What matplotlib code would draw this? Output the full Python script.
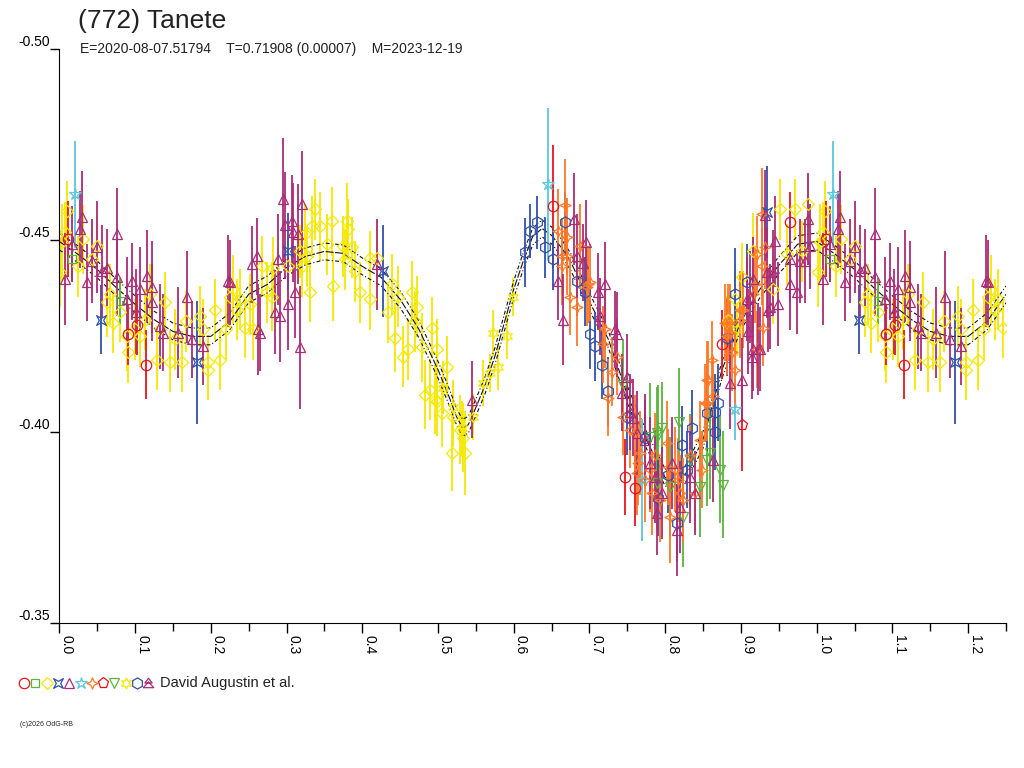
import numpy as np
import matplotlib
matplotlib.use('Agg')
import matplotlib.pyplot as plt
from matplotlib.path import Path
from matplotlib.lines import Line2D
from matplotlib.ticker import FormatStrFormatter, MultipleLocator

plt.rcParams['font.family'] = ['Liberation Sans', 'DejaVu Sans']
plt.rcParams['axes.unicode_minus'] = False

title = '(772) Tanete'
subtitle = 'E=2020-08-07.51794    T=0.71908 (0.00007)    M=2023-12-19'
observer = 'David Augustin et al.'
credit = '(c)2026 OdG-RB'

# fitted light curve (phase, mag) and its uncertainty band
model_phase = [0.000, 0.025, 0.050, 0.075, 0.100, 0.125, 0.150, 0.175, 0.200, 0.225,
               0.250, 0.275, 0.300, 0.325, 0.350, 0.375, 0.400, 0.425, 0.450, 0.475,
               0.500, 0.5125, 0.525, 0.5325, 0.540, 0.550, 0.5625, 0.575, 0.600, 0.6125,
               0.625, 0.6375, 0.650, 0.6625, 0.675, 0.700, 0.725, 0.750, 0.775, 0.800,
               0.8125, 0.825, 0.850, 0.875, 0.900, 0.925, 0.950, 0.975, 1.000]
model_mag = [-0.4497, -0.4463, -0.4424, -0.4377, -0.4333, -0.4293, -0.4262, -0.4249, -0.4249, -0.4288,
             -0.4359, -0.4385, -0.4429, -0.4458, -0.4471, -0.4466, -0.4432, -0.4403, -0.4346, -0.4267,
             -0.4162, -0.4102, -0.4037, -0.4010, -0.4018, -0.4063, -0.4123, -0.4196, -0.4372, -0.4445,
             -0.4510, -0.4531, -0.4513, -0.4482, -0.4445, -0.4340, -0.4241, -0.4097, -0.3979, -0.3880,
             -0.3869, -0.3882, -0.3979, -0.4162, -0.4288, -0.4372, -0.4435, -0.4490, -0.4497]
model_hi = [-0.4519, -0.4485, -0.4446, -0.4399, -0.4355, -0.4315, -0.4284, -0.4271, -0.4271, -0.4310,
            -0.4381, -0.4407, -0.4451, -0.4480, -0.4493, -0.4488, -0.4454, -0.4425, -0.4368, -0.4289,
            -0.4184, -0.4124, -0.4059, -0.4032, -0.4040, -0.4085, -0.4145, -0.4218, -0.4394, -0.4467,
            -0.4532, -0.4553, -0.4535, -0.4504, -0.4467, -0.4362, -0.4263, -0.4119, -0.4001, -0.3902,
            -0.3891, -0.3904, -0.4001, -0.4184, -0.4310, -0.4394, -0.4457, -0.4512, -0.4519]
model_lo = [-0.4475, -0.4441, -0.4402, -0.4355, -0.4311, -0.4271, -0.4240, -0.4227, -0.4227, -0.4266,
            -0.4337, -0.4363, -0.4407, -0.4436, -0.4449, -0.4444, -0.4410, -0.4381, -0.4324, -0.4245,
            -0.4140, -0.4080, -0.4015, -0.3988, -0.3996, -0.4041, -0.4101, -0.4174, -0.4350, -0.4423,
            -0.4488, -0.4509, -0.4491, -0.4460, -0.4423, -0.4318, -0.4219, -0.4075, -0.3957, -0.3858,
            -0.3847, -0.3860, -0.3957, -0.4140, -0.4266, -0.4350, -0.4413, -0.4468, -0.4475]

# observations: phase, mag, error
yellow_diamond = np.array([
    [0.0106, -0.4576, 0.008], [0.0040, -0.4495, 0.010], [0.0013, -0.4416, 0.009], [0.0079, -0.4521, 0.008],
    [0.0502, -0.4484, 0.008], [0.0317, -0.4503, 0.009], [0.0251, -0.4432, 0.008], [0.0673, -0.4359, 0.008],
    [0.0805, -0.4314, 0.008], [0.0634, -0.4338, 0.009], [0.0911, -0.4207, 0.008], [0.0898, -0.4249, 0.009],
    [0.0713, -0.4285, 0.008], [0.1201, -0.4359, 0.008], [0.1399, -0.4338, 0.008], [0.1069, -0.4249, 0.008],
    [0.1294, -0.4188, 0.008], [0.1465, -0.4183, 0.008], [0.1624, -0.4183, 0.008], [0.1861, -0.4301, 0.008],
    [0.1901, -0.4267, 0.008], [0.1967, -0.4183, 0.007], [0.2125, -0.4188, 0.008], [0.1967, -0.4162, 0.008],
    [0.2257, -0.4351, 0.008], [0.2297, -0.4372, 0.009], [0.2455, -0.4272, 0.008], [0.2561, -0.4267, 0.008],
    [0.0436, -0.4450, 0.009], [0.1531, -0.4241, 0.008], [0.1677, -0.4288, 0.008], [0.2059, -0.4319, 0.008],
    [0.2205, -0.4267, 0.008], [0.2389, -0.4346, 0.008], [0.1135, -0.4293, 0.008], [0.1003, -0.4267, 0.008],
    [0.1333, -0.4267, 0.009], [0.2350, -0.4319, 0.008], [0.2521, -0.4333, 0.008], [0.2680, -0.4432, 0.008],
    [0.2746, -0.4364, 0.008], [0.2812, -0.4353, 0.009], [0.2825, -0.4429, 0.008], [0.3023, -0.4432, 0.008],
    [0.3182, -0.4471, 0.007], [0.3208, -0.4432, 0.008], [0.3274, -0.4458, 0.008], [0.3314, -0.4366, 0.008],
    [0.3248, -0.4516, 0.008], [0.3340, -0.4537, 0.008], [0.3380, -0.4581, 0.008], [0.3446, -0.4537, 0.009],
    [0.3538, -0.4490, 0.008], [0.3604, -0.4550, 0.009], [0.3617, -0.4380, 0.009], [0.3749, -0.4484, 0.008],
    [0.3802, -0.4550, 0.010], [0.3815, -0.4529, 0.008], [0.3868, -0.4482, 0.008], [0.3776, -0.4450, 0.008],
    [0.3908, -0.4419, 0.008], [0.3974, -0.4364, 0.008], [0.4106, -0.4346, 0.008], [0.4106, -0.4455, 0.007],
    [0.4198, -0.4455, 0.008], [0.4396, -0.4385, 0.008], [0.4475, -0.4353, 0.008], [0.4660, -0.4366, 0.008],
    [0.4726, -0.4327, 0.008], [0.4343, -0.4312, 0.008], [0.4436, -0.4246, 0.009], [0.4541, -0.4196, 0.008],
    [0.4607, -0.4215, 0.008], [0.4700, -0.4288, 0.008], [0.4792, -0.4220, 0.009], [0.4924, -0.4272, 0.008],
    [0.4990, -0.4215, 0.008], [0.5122, -0.4170, 0.008], [0.4832, -0.4097, 0.009], [0.4898, -0.4110, 0.008],
    [0.4990, -0.4079, 0.009], [0.5056, -0.4050, 0.009], [0.5188, -0.3945, 0.010], [0.5360, -0.3945, 0.011],
    [0.5294, -0.4005, 0.009], [0.5333, -0.3984, 0.009], [0.5201, -0.4039, 0.008], [0.4964, -0.4084, 0.009],
    [0.9016, -0.4403, 0.009], [0.9518, -0.4581, 0.008], [0.9716, -0.4581, 0.008], [0.9888, -0.4594, 0.008],
    [0.9162, -0.4471, 0.010], [0.9426, -0.4372, 0.009], [0.9611, -0.4463, 0.008], [0.9809, -0.4471, 0.008],
    [0.8832, -0.4293, 0.009], [0.8924, -0.4346, 0.009],
])

yellow_star = np.array([
    [0.5069, -0.4115, 0.007], [0.5201, -0.4065, 0.007], [0.5320, -0.4010, 0.007], [0.5465, -0.4039, 0.006],
    [0.5597, -0.4128, 0.006], [0.5690, -0.4154, 0.005], [0.5795, -0.4170, 0.006], [0.5729, -0.4259, 0.006],
    [0.5914, -0.4249, 0.006], [0.5993, -0.4351, 0.005], [0.8818, -0.4285, 0.007], [0.8950, -0.4267, 0.007],
])

purple_triangle = np.array([
    [0.0079, -0.4398, 0.012], [0.0277, -0.4529, 0.010], [0.0304, -0.4560, 0.012], [0.0370, -0.4390, 0.010],
    [0.0502, -0.4482, 0.012], [0.0766, -0.4516, 0.012], [0.0634, -0.4429, 0.010], [0.0766, -0.4403, 0.010],
    [0.0964, -0.4393, 0.010], [0.1069, -0.4372, 0.011], [0.1162, -0.4406, 0.012], [0.1228, -0.4377, 0.012],
    [0.1228, -0.4338, 0.010], [0.1333, -0.4275, 0.011], [0.1373, -0.4259, 0.010], [0.1690, -0.4351, 0.012],
    [0.1571, -0.4259, 0.012], [0.1756, -0.4241, 0.010], [0.1901, -0.4223, 0.010], [0.2231, -0.4393, 0.012],
    [0.2548, -0.4437, 0.010], [0.2614, -0.4458, 0.010], [0.0172, -0.4490, 0.010], [0.0436, -0.4445, 0.011],
    [0.0568, -0.4419, 0.012], [0.0898, -0.4346, 0.011], [0.1017, -0.4314, 0.011], [0.2627, -0.4267, 0.012],
    [0.2957, -0.4607, 0.016], [0.3208, -0.4594, 0.014], [0.2983, -0.4539, 0.014], [0.3076, -0.4550, 0.012],
    [0.3089, -0.4521, 0.013], [0.3155, -0.4516, 0.013], [0.2891, -0.4450, 0.012], [0.3023, -0.4333, 0.012],
    [0.3116, -0.4364, 0.012], [0.2851, -0.4312, 0.011], [0.2917, -0.4301, 0.012], [0.2653, -0.4259, 0.010],
    [0.3182, -0.4220, 0.016], [0.4198, -0.4437, 0.012], [0.5452, -0.4084, 0.010], [0.2257, -0.4390, 0.011],
    [0.6587, -0.4393, 0.010], [0.6653, -0.4293, 0.012], [0.6799, -0.4555, 0.012], [0.6838, -0.4458, 0.011],
    [0.6957, -0.4495, 0.011], [0.6917, -0.4442, 0.010], [0.7116, -0.4366, 0.010], [0.7208, -0.4385, 0.011],
    [0.7142, -0.4301, 0.010], [0.7340, -0.4267, 0.010], [0.7366, -0.4254, 0.011], [0.7432, -0.4102, 0.010],
    [0.7498, -0.4144, 0.011], [0.7578, -0.4037, 0.010], [0.7630, -0.3997, 0.011], [0.7802, -0.3919, 0.012],
    [0.7538, -0.4052, 0.010], [0.7736, -0.3979, 0.012], [0.7868, -0.3882, 0.012], [0.7960, -0.3840, 0.012],
    [0.7894, -0.3788, 0.011], [0.8092, -0.3919, 0.012], [0.8198, -0.3804, 0.012], [0.8330, -0.3882, 0.012],
    [0.8396, -0.3840, 0.011], [0.8158, -0.3743, 0.012], [0.8634, -0.3927, 0.011], [0.9017, -0.4136, 0.011],
    [0.8858, -0.4128, 0.012], [0.9149, -0.4196, 0.011], [0.9254, -0.4215, 0.011], [0.9360, -0.4319, 0.011],
    [0.9162, -0.4398, 0.011], [0.9083, -0.4346, 0.011], [0.9426, -0.4416, 0.011], [0.9452, -0.4497, 0.012],
    [0.9650, -0.4450, 0.011], [0.9347, -0.4416, 0.012], [0.9386, -0.4327, 0.011], [0.9492, -0.4333, 0.011],
    [0.9650, -0.4385, 0.012], [0.9743, -0.4366, 0.011], [0.9782, -0.4445, 0.011], [0.9888, -0.4555, 0.012],
    [0.9914, -0.4484, 0.011], [0.9848, -0.4445, 0.011], [0.9162, -0.4215, 0.011], [0.9228, -0.4215, 0.012],
    [0.9122, -0.4351, 0.012], [0.9096, -0.4262, 0.011], [0.9320, -0.4565, 0.012],
])

orange_cross = np.array([
    [0.6680, -0.4592, 0.012], [0.6587, -0.4524, 0.011], [0.6706, -0.4510, 0.010], [0.6640, -0.4458, 0.010],
    [0.6706, -0.4458, 0.010], [0.6878, -0.4484, 0.011], [0.6640, -0.4432, 0.010], [0.6746, -0.4353, 0.010],
    [0.6838, -0.4325, 0.010], [0.6970, -0.4377, 0.010], [0.7010, -0.4390, 0.010], [0.7208, -0.4267, 0.010],
    [0.7182, -0.4228, 0.010], [0.7300, -0.4157, 0.009], [0.7366, -0.4196, 0.010], [0.7248, -0.4089, 0.010],
    [0.7446, -0.4039, 0.010], [0.7538, -0.4005, 0.010], [0.7604, -0.3997, 0.010], [0.7644, -0.3919, 0.011],
    [0.6983, -0.4385, 0.010], [0.7670, -0.3945, 0.011], [0.7630, -0.3893, 0.011], [0.7828, -0.3840, 0.011],
    [0.8026, -0.3971, 0.011], [0.8040, -0.3908, 0.010], [0.8172, -0.3874, 0.011], [0.8132, -0.3901, 0.011],
    [0.8198, -0.3840, 0.010], [0.8238, -0.3822, 0.011], [0.8066, -0.3777, 0.012], [0.8396, -0.3840, 0.010],
    [0.8488, -0.3901, 0.010], [0.8568, -0.4136, 0.010], [0.8620, -0.4188, 0.010], [0.8554, -0.4076, 0.010],
    [0.8634, -0.4092, 0.010], [0.8832, -0.4285, 0.010], [0.8818, -0.4249, 0.010], [0.8884, -0.4207, 0.010],
    [0.9030, -0.4319, 0.010], [0.9294, -0.4272, 0.010], [0.9215, -0.4215, 0.010], [0.8924, -0.4162, 0.010],
    [0.9281, -0.4568, 0.012], [0.9320, -0.4482, 0.011], [0.9215, -0.4463, 0.010], [0.9281, -0.4432, 0.010],
    [0.9188, -0.4385, 0.010], [0.9162, -0.4359, 0.010], [0.8990, -0.4319, 0.010], [0.8990, -0.4293, 0.010],
    [0.8858, -0.4285, 0.010], [0.8792, -0.4285, 0.010], [0.8858, -0.4259, 0.010], [0.8554, -0.4136, 0.010],
    [0.8528, -0.4076, 0.010], [0.7802, -0.3901, 0.011], [0.7934, -0.3822, 0.011], [0.7736, -0.3874, 0.011],
    [0.7868, -0.3940, 0.011], [0.8330, -0.3940, 0.010], [0.8462, -0.3979, 0.010],
])

blue_hexagon = np.array([
    [0.6152, -0.4469, 0.009], [0.6218, -0.4524, 0.007], [0.6310, -0.4547, 0.007], [0.6416, -0.4482, 0.008],
    [0.6521, -0.4450, 0.008], [0.6680, -0.4547, 0.008], [0.6838, -0.4393, 0.009], [0.6944, -0.4366, 0.009],
    [0.7010, -0.4254, 0.009], [0.7076, -0.4223, 0.009], [0.7168, -0.4175, 0.009], [0.7248, -0.4105, 0.009],
    [0.7498, -0.4039, 0.010], [0.7736, -0.3984, 0.010], [0.7908, -0.3827, 0.010], [0.8040, -0.3887, 0.010],
    [0.8224, -0.3966, 0.010], [0.8290, -0.3901, 0.010], [0.8356, -0.4010, 0.010], [0.8554, -0.4050, 0.010],
    [0.8660, -0.4052, 0.010], [0.8700, -0.4076, 0.010], [0.8158, -0.3762, 0.010], [0.8818, -0.4246, 0.010],
    [0.8924, -0.4359, 0.012], [0.9083, -0.4390, 0.010], [0.8660, -0.4000, 0.010],
])

blue_bowtie = np.array([
    [0.0554, -0.4293, 0.009], [0.1822, -0.4181, 0.016], [0.3023, -0.4471, 0.010],
    [0.4277, -0.4419, 0.012], [0.9347, -0.4573, 0.012],
])

green_down = np.array([
    [0.7446, -0.4123, 0.012], [0.7960, -0.4010, 0.012], [0.7908, -0.3992, 0.013], [0.7802, -0.3987, 0.014],
    [0.8185, -0.4026, 0.014], [0.8330, -0.3927, 0.012], [0.8594, -0.3945, 0.012], [0.8726, -0.3901, 0.014],
    [0.8766, -0.3861, 0.014], [0.8462, -0.3856, 0.013], [0.8238, -0.3777, 0.013], [0.8066, -0.3856, 0.013],
    [0.7894, -0.3866, 0.012], [0.8554, -0.3927, 0.012], [0.7894, -0.3997, 0.012],
])

green_square = np.array([
    [0.0172, -0.4450, 0.006], [0.0805, -0.4341, 0.006],
])

red_circle = np.array([
    [0.1030, -0.4280, 0.008], [0.0911, -0.4254, 0.008], [0.1149, -0.4175, 0.009], [0.6521, -0.4589, 0.016],
    [0.7472, -0.3882, 0.010], [0.7604, -0.3853, 0.010], [0.8752, -0.4228, 0.009], [0.9650, -0.4547, 0.008],
    [0.0119, -0.4503, 0.010],
])

red_pentagon = np.array([
    [0.9017, -0.4018, 0.012],
])

cyan_star = np.array([
    [0.0211, -0.4620, 0.014], [0.6455, -0.4647, 0.020], [0.8924, -0.4058, 0.008], [0.7696, -0.3874, 0.016],
])

# colours
RED = '#e8141e'
GREEN = '#5ab43c'
YELLOW = '#f5e800'
BLUE = '#3050aa'
PURPLE = '#aa2c78'
CYAN = '#5ac8dc'
ORANGE = '#ff7828'

bowtie = Path([(-1, -1), (0, -0.45), (1, -1), (0.45, 0), (1, 1), (0, 0.45), (-1, 1), (-0.45, 0), (-1, -1)],
              closed=True)
star4 = Path([(0, 1), (0.3, 0.3), (1, 0), (0.3, -0.3), (0, -1), (-0.3, -0.3), (-1, 0), (-0.3, 0.3), (0, 1)],
             closed=True)
tree = Path([(0, 1), (0.7, 0.1), (-0.7, 0.1), (0, 1), (0, 0.3), (1, -0.8), (-1, -0.8), (0, 0.3)],
            [Path.MOVETO, Path.LINETO, Path.LINETO, Path.CLOSEPOLY,
             Path.MOVETO, Path.LINETO, Path.LINETO, Path.CLOSEPOLY])

fig = plt.figure(figsize=(10.24, 7.68), dpi=100)
ax = fig.add_axes([59.3 / 1024, 1 - 623 / 768, (1006 - 59.3) / 1024, (623 - 49) / 768])


def wrap(arr):
    # the chart repeats phases 0-0.25 after 1.0
    extra = arr[arr[:, 0] <= 0.25].copy()
    extra[:, 0] += 1.0
    return np.vstack([arr, extra])


def draw(arr, marker, color, ms=7.0):
    d = wrap(arr)
    ax.errorbar(d[:, 0], d[:, 1], yerr=d[:, 2], marker=marker, linestyle='none',
                mfc='none', mec=color, mew=0.9, ms=ms, ecolor=color,
                elinewidth=1.3, capsize=0)


draw(yellow_diamond, 'D', YELLOW, 6.5)
draw(yellow_star, (6, 1, 0), YELLOW, 8)

# model drawn over the yellow set, under the others
mp = np.array(model_phase)
keep = (mp > 0) & (mp <= 0.25)
full_phase = np.concatenate([mp, mp[keep] + 1.0])
full_mag = np.concatenate([model_mag, np.array(model_mag)[keep]])
full_hi = np.concatenate([model_hi, np.array(model_hi)[keep]])
full_lo = np.concatenate([model_lo, np.array(model_lo)[keep]])
ax.plot(full_phase, full_mag, color='#111111', lw=0.8, ls=(0, (7, 1.5)))
ax.plot(full_phase, full_hi, color='#111111', lw=0.8, ls=(0, (3.5, 2, 1, 2)))
ax.plot(full_phase, full_lo, color='#111111', lw=0.8, ls=(0, (3.5, 2, 1, 2)))

draw(green_square, 's', GREEN, 6)
draw(blue_bowtie, bowtie, BLUE, 7)
draw(cyan_star, '*', CYAN, 9)
draw(red_circle, 'o', RED, 7.5)
draw(red_pentagon, 'p', RED, 8)
draw(green_down, 'v', GREEN, 7.5)
draw(blue_hexagon, 'h', BLUE, 8)
draw(orange_cross, star4, ORANGE, 8)
draw(purple_triangle, '^', PURPLE, 7.5)

ax.set_xlim(0, 1.25)
ax.set_ylim(-0.35, -0.50)
ax.spines['top'].set_visible(False)
ax.spines['right'].set_visible(False)
ax.xaxis.set_major_locator(MultipleLocator(0.1))
ax.xaxis.set_minor_locator(MultipleLocator(0.05))
ax.xaxis.set_major_formatter(FormatStrFormatter('%.1f'))
ax.set_yticks([-0.50, -0.45, -0.40, -0.35])
ax.yaxis.set_major_formatter(FormatStrFormatter('%.2f'))
ax.tick_params(axis='x', which='major', direction='out', length=7.5, width=1, pad=1, labelsize=10)
ax.tick_params(axis='x', which='minor', direction='out', length=6, width=1)
ax.tick_params(axis='y', which='major', direction='out', length=6.5, width=1, pad=0, labelsize=10)
for lab in ax.get_xticklabels():
    lab.set_rotation(-90)
    lab.set_horizontalalignment('left')
    lab.set_verticalalignment('top')
for lab in ax.get_yticklabels():
    lab.set_verticalalignment('bottom')

fig.text(78 / 1024, 1 - 21 / 768, title, fontsize=19, va='center', ha='left', color='#222222')
fig.text(80 / 1024, 1 - 49 / 768, subtitle, fontsize=10, va='center', ha='left', color='#222222')

legend_items = [('o', RED, 7.5), ('s', GREEN, 6), ('D', YELLOW, 6.5), (bowtie, BLUE, 7),
                ('^', PURPLE, 7.5), ('*', CYAN, 9), (star4, ORANGE, 8), ('p', RED, 8),
                ('v', GREEN, 7.5), ((6, 1, 0), YELLOW, 8), ('h', BLUE, 8), (tree, PURPLE, 7.5)]
x0 = 24
for i, (mk, col, ms) in enumerate(legend_items):
    xp = (x0 + i * 11.3) / 1024
    fig.add_artist(Line2D([xp], [1 - 683 / 768], marker=mk, mfc='none', mec=col, mew=0.9, ms=ms,
                          linestyle='none', transform=fig.transFigure))
fig.text(160 / 1024, 1 - 683 / 768, observer, fontsize=10.5, va='center', ha='left', color='#222222')
fig.text(20 / 1024, 1 - 725 / 768, credit, fontsize=5, va='center', ha='left', color='#222222')

fig.savefig('out.png', dpi=100)
